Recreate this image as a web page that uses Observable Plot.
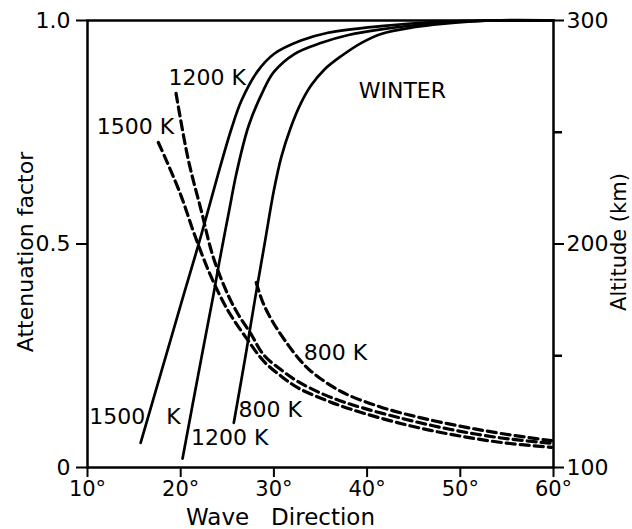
<!DOCTYPE html>
<html><head><meta charset="utf-8">
<script src="https://cdn.jsdelivr.net/npm/d3@7"></script>
<script src="https://cdn.jsdelivr.net/npm/@observablehq/plot@0.6"></script>
<style>
html,body{margin:0;padding:0;background:#fff;}
#chart svg{display:block;}
</style></head><body><div id="chart"></div>
<script>
// ---- Solid curves: altitude (km, right axis) vs wave direction (deg)
const solid1500Deg = [15.7, 18.0, 20.3, 22.2, 24.0, 25.4, 26.5, 28.2, 30.0, 32.9, 35.8, 41.5, 48, 53, 60];
const solid1500Alt = [111, 144, 177, 204, 231, 251, 264, 277, 285, 291, 294.5, 297.5, 299.5, 300, 300];
const solid1200Deg = [20.2, 21.9, 23.5, 24.1, 25.2, 26.0, 27.3, 28.9, 30.0, 32.2, 35.1, 38.0, 41.5, 48, 53.4, 60];
const solid1200Alt = [104, 142, 177, 191, 215, 232, 253, 269, 277, 285, 290, 293.5, 296, 299, 300, 300];
const solid800Deg  = [25.7, 27.0, 28.0, 29.0, 30.0, 30.8, 31.8, 32.9, 34.0, 35.4, 37.2, 39.4, 41.5, 45, 48, 53.4, 60];
const solid800Alt  = [120, 151, 176, 200, 224, 239, 252, 263, 271, 278, 284, 290, 294, 297, 298.5, 300, 300];

// ---- Dashed curves: attenuation factor (left axis) vs wave direction (deg)
const dash1500Deg = [17.6, 18.4, 20.0, 21.5, 23.2, 25.1, 27.2, 28.9, 30.8, 32.6, 35.4, 38.3, 43.7, 49.0, 54.4, 59.8];
const dash1500Att = [0.727, 0.69, 0.61, 0.52, 0.43, 0.35, 0.285, 0.238, 0.204, 0.178, 0.152, 0.13, 0.098, 0.074, 0.056, 0.045];
const dash1200Deg = [19.5, 20.8, 22.2, 23.5, 25.1, 26.1, 27.5, 28.9, 30.8, 32.6, 35.4, 38.3, 43.7, 49.0, 54.4, 59.8];
const dash1200Att = [0.837, 0.69, 0.575, 0.47, 0.385, 0.345, 0.30, 0.252, 0.218, 0.192, 0.163, 0.141, 0.11, 0.085, 0.066, 0.054];
const dash800Deg  = [28.1, 28.8, 29.9, 31.5, 32.9, 34.0, 37.2, 41.5, 45.8, 50.1, 54.4, 59.8];
const dash800Att  = [0.414, 0.37, 0.325, 0.275, 0.238, 0.215, 0.17, 0.135, 0.111, 0.092, 0.076, 0.06];

// ---- Ticks
const xTicks = [10, 20, 30, 40, 50, 60];
const leftTicks = [0, 0.5, 1];
const leftTickLabels = ["0", "0.5", "1.0"];
const altMajor = [100, 200, 300];
const altMinor = [150, 250];
const altMin = 100, altMax = 300;

// ---- Annotations (data coordinates)
const labelText = ["1200 K", "1500 K", "WINTER", "1500\u00a0\u00a0\u00a0K", "1200 K", "800 K", "800 K"];
const labelDeg  = [18.7, 11.0, 39.1, 10.2, 21.1, 26.2, 33.2];
const labelAtt  = [0.872, 0.761, 0.843, 0.112, 0.067, 0.128, 0.257];

const toAtt = a => (a - altMin) / (altMax - altMin);
const zip = (xs, ys) => xs.map((x, i) => ({x, y: ys[i]}));

const solids = [zip(solid1500Deg, solid1500Alt), zip(solid1200Deg, solid1200Alt), zip(solid800Deg, solid800Alt)];
const dashes = [zip(dash1500Deg, dash1500Att), zip(dash1200Deg, dash1200Att), zip(dash800Deg, dash800Att)];
const labels = labelText.map((t, i) => ({t, x: labelDeg[i], y: labelAtt[i]}));

const FONT = "'DejaVu Sans', sans-serif";

const marks = [];
for (const s of solids) {
  marks.push(Plot.line(s, {x: "x", y: d => toAtt(d.y), curve: "catmull-rom", stroke: "black", strokeWidth: 2.7}));
}
for (const s of dashes) {
  marks.push(Plot.line(s, {x: "x", y: "y", curve: "catmull-rom", stroke: "black", strokeWidth: 3.2, strokeDasharray: "9,5"}));
}
marks.push(
  Plot.frame({stroke: "black", strokeWidth: 2.5}),
  Plot.axisX({ticks: xTicks, tickFormat: d => d + "°", tickSize: 10, tickPadding: 4, fontSize: 21, label: null, strokeWidth: 2}),
  Plot.axisY({anchor: "left", ticks: leftTicks, tickFormat: d => leftTickLabels[leftTicks.indexOf(d)], tickSize: 11, tickPadding: 6, fontSize: 22, label: null, strokeWidth: 2}),
  Plot.axisY({anchor: "right", ticks: altMajor.map(toAtt), tickFormat: d => String(Math.round(d * (altMax - altMin) + altMin)), tickSize: 10, tickPadding: 3, fontSize: 22, label: null, strokeWidth: 2}),
  Plot.axisY({anchor: "right", ticks: altMinor.map(toAtt), tickFormat: () => "", tickSize: 8, label: null, strokeWidth: 2.5}),
  Plot.text(labels, {x: "x", y: "y", text: "t", textAnchor: "start", lineAnchor: "middle", fontSize: 22, fill: "black"}),
  Plot.text(["Attenuation factor"], {frameAnchor: "left", textAnchor: "middle", lineAnchor: "middle", dx: -62, dy: 8, rotate: -90, fontSize: 22, fill: "black"}),
  Plot.text(["Altitude (km)"], {frameAnchor: "right", textAnchor: "middle", lineAnchor: "middle", dx: 66, dy: -2, rotate: -90, fontSize: 21, fill: "black"}),
  Plot.text(["Wave\u00a0\u00a0\u00a0Direction"], {frameAnchor: "bottom", textAnchor: "middle", lineAnchor: "middle", dx: -40, dy: 50, fontSize: 23, fill: "black"})
);

const chart = Plot.plot({
  width: 632,
  height: 529,
  marginLeft: 87,
  marginRight: 79,
  marginTop: 20,
  marginBottom: 62,
  x: {domain: [10, 60]},
  y: {domain: [0, 1]},
  style: {fontFamily: FONT, fontSize: "22px", background: "white", color: "black", overflow: "visible"},
  marks
});
document.getElementById("chart").appendChild(chart);
</script>
</body></html>
